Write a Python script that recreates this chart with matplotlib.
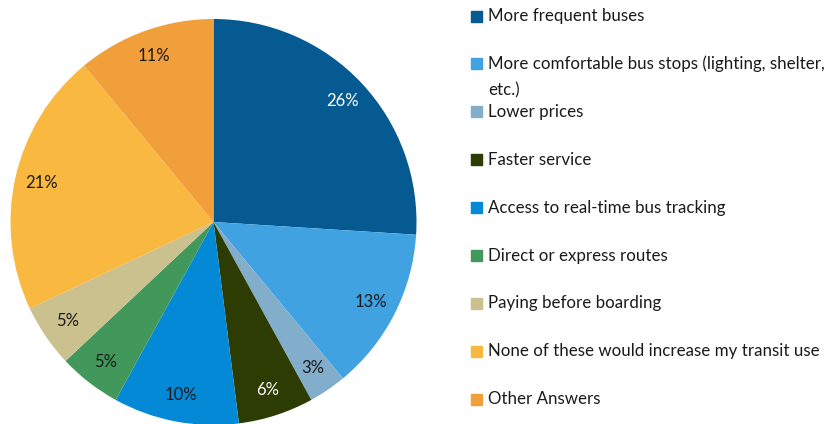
import matplotlib
matplotlib.use("Agg")
import matplotlib.pyplot as plt
from matplotlib.patches import Rectangle

plt.rcParams["font.family"] = ["Lato", "DejaVu Sans"]

# survey answers, clockwise from 12 o'clock
labels = ["More frequent buses",
          "More comfortable bus stops (lighting, shelter,\netc.)",
          "Lower prices",
          "Faster service",
          "Access to real-time bus tracking",
          "Direct or express routes",
          "Paying before boarding",
          "None of these would increase my transit use",
          "Other Answers"]
shares = [26, 13, 3, 6, 10, 5, 5, 21, 11]
colors = ["#065A92", "#41A2E2", "#82AECB", "#2C3C02", "#0489D6",
          "#41985A", "#CBC18E", "#F9B840", "#F09F3B"]
pct_colors = ["white", "#1a1a1a", "#1a1a1a", "white", "#1a1a1a",
              "#1a1a1a", "#1a1a1a", "#1a1a1a", "#1a1a1a"]

W, H = 831, 424
fig = plt.figure(figsize=(W / 100, H / 100), dpi=100)

# pie centred at (213.5, 222) px, radius 203 px
cx, cy, r = 213.5, 222, 203
ax = fig.add_axes([(cx - r) / W, (H - cy - r) / H, 2 * r / W, 2 * r / H])
wedges, texts, autotexts = ax.pie(shares, colors=colors, startangle=90,
                                  counterclock=False, radius=1,
                                  autopct=lambda p: f"{p:.0f}%",
                                  pctdistance=0.87,
                                  wedgeprops=dict(linewidth=0))
for t, c in zip(autotexts, pct_colors):
    t.set_color(c)
    t.set_fontsize(12)
ax.set_xlim(-1, 1); ax.set_ylim(-1, 1)
ax.set_aspect("equal"); ax.axis("off")

# legend drawn as fixed slots down the right side; wrapped lines spill below
y0, step, line_h = 16, 47.9, 26
for i, (lab, col) in enumerate(zip(labels, colors)):
    y = y0 + step * i
    fig.patches.append(Rectangle((471 / W, (H - y - 5.5) / H), 11 / W, 11 / H,
                                 transform=fig.transFigure, color=col))
    for k, line in enumerate(lab.split("\n")):
        fig.text(488 / W, (H - y - k * line_h) / H, line, fontsize=12.2,
                 color="#1a1a1a", va="center")

fig.savefig("out.png", dpi=100)
